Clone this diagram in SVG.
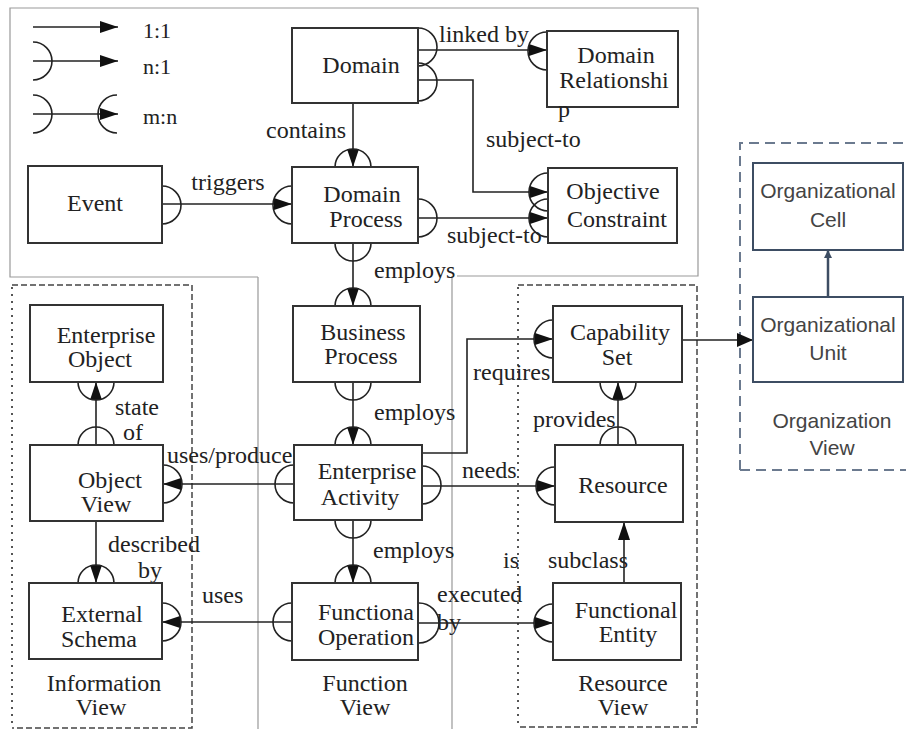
<svg xmlns="http://www.w3.org/2000/svg" width="906" height="729" viewBox="0 0 906 729">
<defs>
<marker id="ah" markerUnits="userSpaceOnUse" markerWidth="18" markerHeight="12" refX="18" refY="6" orient="auto"><path d="M0,0 L18,6 L0,12 z" fill="#111"/></marker>
<marker id="ahs" markerUnits="userSpaceOnUse" markerWidth="8" markerHeight="8" refX="8" refY="4" orient="auto"><path d="M0,0 L8,4 L0,8 z" fill="#3d4d63"/></marker>
<marker id="ahb" markerUnits="userSpaceOnUse" markerWidth="16" markerHeight="14" refX="16" refY="7" orient="auto"><path d="M0,0 L16,7 L0,14 z" fill="#111"/></marker>
<style>
.frame{fill:none;stroke:#999;stroke-width:1.2}
.dash{fill:none;stroke:#444;stroke-width:1.5;stroke-dasharray:6,3}
.dot{fill:none;stroke:#555;stroke-width:2;stroke-dasharray:2,5}
.odash{fill:none;stroke:#6b7a8f;stroke-width:2;stroke-dasharray:10,6}
.box{fill:#fff;stroke:#333;stroke-width:2}
.obox{fill:#fff;stroke:#3d4d63;stroke-width:2}
.ln{fill:none;stroke:#222;stroke-width:1.6}
.arc{fill:none;stroke:#222;stroke-width:1.6}
.t{font-family:"Liberation Serif","Times New Roman",serif;font-size:24px;fill:#222}
.tc{text-anchor:middle}
.ts{font-family:"Liberation Sans",Arial,sans-serif;font-size:21px;fill:#444;text-anchor:middle}
</style>
</defs>
<rect width="906" height="729" fill="#fff"/>

<g id="frames">
<path class="frame" d="M258,277 H10 V8 H698 V276 H457"/>
<path class="frame" d="M258,277 V729 M452,276 V729"/>
<path class="dash" d="M12,285 H192 V728 H12"/>
<path class="dot" d="M12,287 V728"/>
<path class="dash" d="M518,285 H697 V727 H518"/>
<path class="dot" d="M518,287 V727"/>
<path class="odash" d="M740,470 V143 H920 M740,470 H920"/>
</g>

<g id="legend">
<line class="ln" x1="33" y1="27" x2="118" y2="27" marker-end="url(#ah)"/>
<text class="t" x="143" y="38" style="font-size:22px">1:1</text>
<line class="ln" x1="33" y1="61" x2="118" y2="61" marker-end="url(#ah)"/>
<path class="arc" d="M33,42 A19,19 0 0 1 33,80"/>
<text class="t" x="143" y="74" style="font-size:22px">n:1</text>
<line class="ln" x1="33" y1="114" x2="118" y2="114" marker-end="url(#ah)"/>
<path class="arc" d="M33,95 A19,19 0 0 1 33,133"/>
<path class="arc" d="M117,95 A19,19 0 0 0 117,133"/>
<text class="t" x="143" y="124" style="font-size:22px">m:n</text>
</g>

<g id="connectors">
<!-- triggers -->
<line class="ln" x1="162" y1="204" x2="292" y2="204" marker-end="url(#ah)"/>
<path class="arc" d="M162,186 A19,19 0 0 1 162,224"/>
<path class="arc" d="M292,186 A19,19 0 0 0 292,224"/>
<text class="t tc" x="228" y="190">triggers</text>
<!-- linked by -->
<line class="ln" x1="418" y1="50" x2="547" y2="50" marker-end="url(#ah)"/>
<path class="arc" d="M418,28 A19,19 0 0 1 418,66"/>
<path class="arc" d="M547,32 A19,19 0 0 0 547,70"/>
<text class="t" x="439" y="42">linked by</text>
<!-- Domain subject-to -->
<path class="ln" d="M418,80 H473 V192 H548" marker-end="url(#ah)"/>
<path class="arc" d="M418,63 A19,19 0 0 1 418,101"/>
<path class="arc" d="M548,173 A19,19 0 0 0 548,211"/>
<text class="t" x="486" y="147">subject-to</text>
<!-- DP subject-to -->
<line class="ln" x1="418" y1="218" x2="548" y2="218" marker-end="url(#ah)"/>
<path class="arc" d="M418,199 A19,19 0 0 1 418,237"/>
<path class="arc" d="M548,199 A19,19 0 0 0 548,237"/>
<text class="t" x="447" y="243">subject-to</text>
<!-- contains -->
<line class="ln" x1="353" y1="103" x2="353" y2="167" marker-end="url(#ah)"/>
<path class="arc" d="M335,167 A18,18 0 0 1 371,167"/>
<text class="t" x="346" y="138" text-anchor="end">contains</text>
<!-- DP employs BP -->
<line class="ln" x1="353" y1="243" x2="353" y2="306" marker-end="url(#ah)"/>
<path class="arc" d="M335,243 A18,18 0 0 0 371,243"/>
<path class="arc" d="M335,306 A18,18 0 0 1 371,306"/>
<text class="t" x="374" y="278">employs</text>
<!-- BP employs EA -->
<line class="ln" x1="353" y1="382" x2="353" y2="445" marker-end="url(#ah)"/>
<path class="arc" d="M335,382 A18,18 0 0 0 371,382"/>
<path class="arc" d="M335,445 A18,18 0 0 1 371,445"/>
<text class="t" x="374" y="420">employs</text>
<!-- EA employs FO -->
<line class="ln" x1="353" y1="520" x2="353" y2="583" marker-end="url(#ah)"/>
<path class="arc" d="M335,520 A18,18 0 0 0 371,520"/>
<path class="arc" d="M335,583 A18,18 0 0 1 371,583"/>
<text class="t" x="373" y="558">employs</text>
<!-- uses/produce -->
<line class="ln" x1="294" y1="484" x2="163" y2="484" marker-end="url(#ah)"/>
<path class="arc" d="M294,465 A19,19 0 0 0 294,503"/>
<path class="arc" d="M163,465 A19,19 0 0 1 163,503"/>
<text class="t" x="167" y="463">uses/produce</text>
<!-- uses -->
<line class="ln" x1="292" y1="622" x2="162" y2="622" marker-end="url(#ah)"/>
<path class="arc" d="M292,603 A19,19 0 0 0 292,641"/>
<path class="arc" d="M162,603 A19,19 0 0 1 162,641"/>
<text class="t" x="202" y="603">uses</text>
<!-- state of -->
<line class="ln" x1="96" y1="445" x2="96" y2="382" marker-end="url(#ah)"/>
<path class="arc" d="M78,445 A18,18 0 0 1 114,445"/>
<path class="arc" d="M78,382 A18,18 0 0 0 114,382"/>
<text class="t" x="115" y="415">state</text>
<text class="t" x="123" y="440">of</text>
<!-- described by -->
<line class="ln" x1="96" y1="521" x2="96" y2="583" marker-end="url(#ah)"/>
<path class="arc" d="M78,583 A18,18 0 0 1 114,583"/>
<text class="t" x="108" y="552">described</text>
<text class="t" x="138" y="578">by</text>
<!-- requires -->
<path class="ln" d="M422,453 H467 V339 H553" marker-end="url(#ah)"/>
<path class="arc" d="M553,320 A19,19 0 0 0 553,358"/>
<text class="t" x="473" y="380">requires</text>
<!-- needs -->
<line class="ln" x1="422" y1="486" x2="555" y2="486" marker-end="url(#ah)"/>
<path class="arc" d="M422,466 A19,19 0 0 1 422,504"/>
<path class="arc" d="M555,467 A19,19 0 0 0 555,505"/>
<text class="t" x="462" y="478">needs</text>
<!-- provides -->
<line class="ln" x1="618" y1="445" x2="618" y2="382" marker-end="url(#ah)"/>
<path class="arc" d="M600,445 A18,18 0 0 1 636,445"/>
<path class="arc" d="M600,382 A18,18 0 0 0 636,382"/>
<text class="t" x="533" y="427">provides</text>
<!-- subclass -->
<line class="ln" x1="624" y1="583" x2="624" y2="522" marker-end="url(#ah)"/>
<text class="t" x="548" y="568">subclass</text>
<!-- is executed by -->
<line class="ln" x1="419" y1="623" x2="553" y2="623" marker-end="url(#ah)"/>
<path class="arc" d="M419,603 A20,20 0 0 1 419,643"/>
<path class="arc" d="M553,604 A19,19 0 0 0 553,642"/>
<text class="t" x="503" y="568">is</text>
<text class="t" x="437" y="602">executed</text>
<text class="t" x="437" y="630">by</text>
<!-- CS to Org Unit -->
<line class="ln" x1="682" y1="340" x2="753" y2="340" marker-end="url(#ahb)"/>
<!-- Unit to Cell -->
<line x1="828" y1="297" x2="828" y2="250" stroke="#3d4d63" stroke-width="2.5" marker-end="url(#ahs)"/>
</g>

<g id="event"><rect class="box" x="28" y="166" width="134" height="77"/><text class="t tc" x="95" y="211">Event</text></g>
<g id="domain"><rect class="box" x="292" y="28" width="126" height="75"/><text class="t tc" x="361" y="73">Domain</text></g>
<g id="domain-relationship"><rect class="box" x="547" y="31" width="131" height="76"/><text class="t tc" x="616" y="63">Domain</text><text class="t tc" x="614" y="88">Relationshi</text><text class="t" x="558" y="117">p</text></g>
<g id="domain-process"><rect class="box" x="292" y="167" width="126" height="76"/><text class="t tc" x="362" y="202">Domain</text><text class="t tc" x="366" y="227">Process</text></g>
<g id="objective-constraint"><rect class="box" x="548" y="168" width="129" height="75"/><text class="t tc" x="613" y="199">Objective</text><text class="t tc" x="617" y="227">Constraint</text></g>
<g id="business-process"><rect class="box" x="293" y="306" width="127" height="76"/><text class="t tc" x="363" y="340">Business</text><text class="t tc" x="361" y="364">Process</text></g>
<g id="capability-set"><rect class="box" x="553" y="306" width="129" height="76"/><text class="t tc" x="620" y="340">Capability</text><text class="t tc" x="617" y="365">Set</text></g>
<g id="enterprise-activity"><rect class="box" x="294" y="445" width="128" height="75"/><text class="t tc" x="367" y="479">Enterprise</text><text class="t tc" x="360" y="505">Activity</text></g>
<g id="resource"><rect class="box" x="555" y="445" width="128" height="77"/><text class="t tc" x="623" y="493">Resource</text></g>
<g id="enterprise-object"><rect class="box" x="30" y="305" width="133" height="77"/><text class="t tc" x="106" y="343">Enterprise</text><text class="t tc" x="100" y="367">Object</text></g>
<g id="object-view"><rect class="box" x="30" y="445" width="133" height="76"/><text class="t tc" x="110" y="488">Object</text><text class="t tc" x="106" y="512">View</text></g>
<g id="external-schema"><rect class="box" x="29" y="583" width="133" height="76"/><text class="t tc" x="102" y="622">External</text><text class="t tc" x="99" y="647">Schema</text></g>
<g id="functional-operation"><rect class="box" x="292" y="583" width="126" height="77"/><text class="t tc" x="366" y="620">Functiona</text><text class="t tc" x="366" y="645">Operation</text></g>
<g id="functional-entity"><rect class="box" x="553" y="583" width="128" height="77"/><text class="t tc" x="626" y="618">Functional</text><text class="t tc" x="628" y="642">Entity</text></g>
<g id="org-cell"><rect class="obox" x="753" y="163" width="150" height="87"/><text class="ts" x="828" y="198">Organizational</text><text class="ts" x="828" y="227">Cell</text></g>
<g id="org-unit"><rect class="obox" x="753" y="297" width="150" height="85"/><text class="ts" x="828" y="332">Organizational</text><text class="ts" x="828" y="360">Unit</text></g>

<g id="view-labels">
<text class="t tc" x="104" y="691">Information</text><text class="t tc" x="101" y="715">View</text>
<text class="t tc" x="365" y="691">Function</text><text class="t tc" x="365" y="715">View</text>
<text class="t tc" x="623" y="691">Resource</text><text class="t tc" x="623" y="715">View</text>
<text class="ts" x="832" y="428">Organization</text><text class="ts" x="832" y="455">View</text>
</g>
</svg>
